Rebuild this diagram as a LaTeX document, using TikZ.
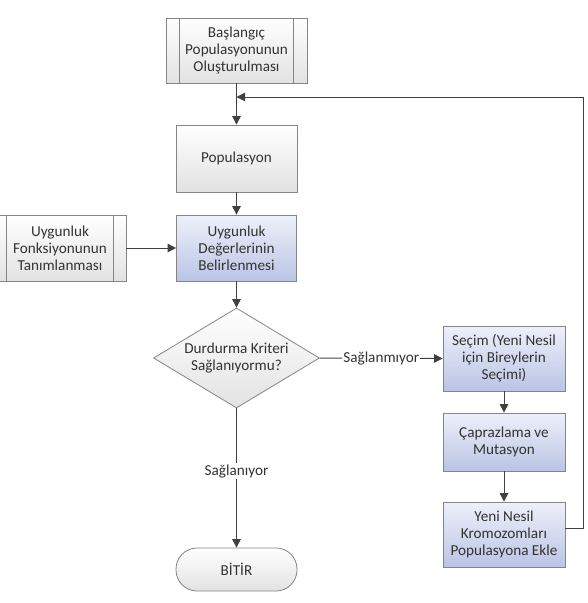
\documentclass[tikz,border=0pt]{standalone}
\usepackage{fontspec}
\setmainfont{Carlito}
\usetikzlibrary{shapes.geometric,arrows.meta,calc}
\definecolor{bordergray}{HTML}{858585}
\definecolor{arrowgray}{HTML}{404040}
\definecolor{bluetop}{HTML}{EEF0FA}
\definecolor{bluebot}{HTML}{BAC4E4}
\definecolor{graybot}{HTML}{E2E2E2}
\begin{document}
\begin{tikzpicture}[x=1pt,y=-1pt,
  box/.style={draw=bordergray, line width=0.8pt, align=center, inner sep=2pt,
    font=\fontsize{15.2}{17}\selectfont, text=black!80},
  graybox/.style={box, top color=white, bottom color=graybot},
  bluebox/.style={box, top color=bluetop, bottom color=bluebot},
  arr/.style={draw=arrowgray, line width=1pt, -{Triangle[length=8.5pt,width=8.5pt]}},
  lbl/.style={fill=white, inner sep=1pt, font=\fontsize{15.2}{17}\selectfont, text=black!80}]
\useasboundingbox (0,0) rectangle (587,603);
% nodes
\node[graybox, minimum width=141pt, minimum height=65pt] (start) at (236.5,50.5) {Başlangıç\\Populasyonunun\\Oluşturulması};
\draw[bordergray, line width=0.8pt] ($(start.north west)+(14,0)$) -- ($(start.south west)+(14,0)$)
  ($(start.north east)+(-14,0)$) -- ($(start.south east)+(-14,0)$);
\node[graybox, minimum width=121pt, minimum height=67pt] (pop) at (236.5,158.5) {Populasyon};
\node[bluebox, minimum width=120pt, minimum height=66pt] (deg) at (236.5,248) {Uygunluk\\Değerlerinin\\Belirlenmesi};
\node[graybox, minimum width=132pt, minimum height=66pt] (fonk) at (60,248) {Uygunluk\\Fonksiyonunun\\Tanımlanması};
\draw[bordergray, line width=0.8pt] ($(fonk.north west)+(13,0)$) -- ($(fonk.south west)+(13,0)$)
  ($(fonk.north east)+(-13,0)$) -- ($(fonk.south east)+(-13,0)$);
\node[box, diamond, top color=white, bottom color=graybot, inner sep=0pt, aspect=1.66,
  minimum width=166pt, minimum height=100pt] (dia) at (236.5,358) {Durdurma Kriteri\\Sağlanıyormu?};
\node[bluebox, minimum width=122pt, minimum height=65pt] (secim) at (504,358.5) {Seçim (Yeni Nesil\\için Bireylerin\\Seçimi)};
\node[bluebox, minimum width=122pt, minimum height=58pt] (capraz) at (504,442) {Çaprazlama ve\\Mutasyon};
\node[bluebox, minimum width=122pt, minimum height=65pt] (yeni) at (504,534.5) {Yeni Nesil\\Kromozomları\\Populasyona Ekle};
\node[graybox, rounded corners=21pt, minimum width=121pt, minimum height=43pt] (bitir) at (236.5,569.5) {BİTİR};
\coordinate (join) at (236.5,97);
\coordinate (loopc) at (583,528);
% connectors
\draw[arr] (start) -- (pop);
\draw[arr] (pop) -- (deg);
\draw[arr] (fonk) -- (deg);
\draw[arr] (deg) -- (dia);
\draw[arr] (dia.east) -- node[lbl]{Sağlanmıyor} (secim.west);
\draw[arr] (dia.south) -- node[lbl, pos=0.45]{Sağlanıyor} (bitir.north);
\draw[arr] (secim) -- (capraz);
\draw[arr] (capraz) -- (yeni);
\draw[arr] (yeni.east |- loopc) -- (loopc) |- (join);
\end{tikzpicture}
\end{document}
